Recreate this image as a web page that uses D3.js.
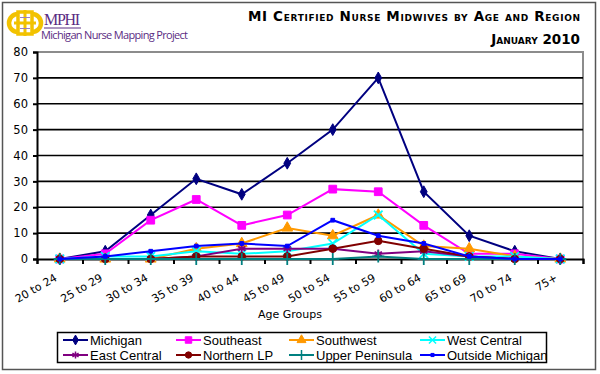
<!DOCTYPE html>
<html>
<head>
<meta charset="utf-8">
<script src="https://cdn.jsdelivr.net/npm/d3@7"></script>
<style>
  body { margin: 0; background: #fff; }
  svg { display: block; }
</style>
</head>
<body>
<div id="chart"></div>
<script>
// Age groups (x categories)
const ageGroups = ["20 to 24", "25 to 29", "30 to 34", "35 to 39", "40 to 44", "45 to 49",
                   "50 to 54", "55 to 59", "60 to 64", "65 to 69", "70 to 74", "75+"];

// Counts per region
const michigan        = [0, 3, 17, 31, 25, 37, 50, 70, 26, 9, 3, 0];
const southeast       = [0, 2, 15, 23, 13, 17, 27, 26, 13, 2, 2, 0];
const southwest       = [0, 0, 0, 4, 6, 12, 9, 17, 5, 4, 1, 0];
const westCentral     = [0, 1, 1, 3, 2, 3, 6, 17, 2, 1, 1, 0];
const eastCentral     = [0, 0, 0, 1, 4, 4, 4, 2, 3, 1, 0, 0];
const northernLP      = [0, 0, 0, 1, 1, 1, 4, 7, 4, 1, 0, 0];
const upperPeninsula  = [0, 0, 0, 0, 0, 0, 0, 1, 0, 0, 0, 0];
const outsideMichigan = [0, 1, 3, 5, 6, 5, 15, 9, 6, 1, 0, 0];

const yTicks = [0, 10, 20, 30, 40, 50, 60, 70, 80];

const series = [
  { name: "Michigan",         values: michigan,        color: "#000080", symbol: d3.symbolDiamond,  size: 40, fill: true },
  { name: "Southeast",        values: southeast,       color: "#ff00ff", symbol: d3.symbolSquare,   size: 60, fill: true },
  { name: "Southwest",        values: southwest,       color: "#ff9900", symbol: d3.symbolTriangle, size: 50, fill: true },
  { name: "West Central",     values: westCentral,     color: "#00ffff", symbol: d3.symbolTimes,    size: 50, fill: false },
  { name: "East Central",     values: eastCentral,     color: "#800080", symbol: d3.symbolAsterisk, size: 50, fill: false },
  { name: "Northern LP",      values: northernLP,      color: "#800000", symbol: d3.symbolCircle,   size: 45, fill: true },
  { name: "Upper Peninsula",  values: upperPeninsula,  color: "#008080", symbol: d3.symbolPlus,     size: 50, fill: false },
  { name: "Outside Michigan", values: outsideMichigan, color: "#0000ff", symbol: d3.symbolSquare,   size: 14, fill: true }
];

const width = 600, height = 374;
const plot = { left: 37, right: 583, top: 52, bottom: 259 };

const svg = d3.select("#chart").append("svg")
  .attr("width", width)
  .attr("height", height);

// outer frame
svg.append("rect")
  .attr("x", 2.5).attr("y", 2.5)
  .attr("width", 593).attr("height", 367)
  .attr("fill", "#fff")
  .attr("stroke", "#555")
  .attr("stroke-width", 1.5);

// logo (yellow knot)
const gold = "#f2c200";
const logo = svg.append("g").attr("transform", "translate(8,9)");
logo.append("circle").attr("cx", 10).attr("cy", 14).attr("r", 9)
  .attr("fill", "none").attr("stroke", gold).attr("stroke-width", 4.5);
logo.append("circle").attr("cx", 24).attr("cy", 14).attr("r", 9)
  .attr("fill", "none").attr("stroke", gold).attr("stroke-width", 4.5);
logo.append("rect").attr("x", 10).attr("y", 3).attr("width", 14).attr("height", 22)
  .attr("fill", "#fff").attr("stroke", gold).attr("stroke-width", 3.5);
logo.append("path").attr("d", "M17,1V27M6,14H28")
  .attr("stroke", gold).attr("stroke-width", 3);
logo.append("path").attr("d", "M12,8.5H22M12,19.5H22")
  .attr("stroke", "#9b7fc0").attr("stroke-width", 1);

svg.append("text")
  .attr("x", 44).attr("y", 25)
  .attr("font-family", "Liberation Serif, serif")
  .attr("font-size", 16)
  .attr("fill", "#5b2c83")
  .attr("textLength", 36)
  .text("MPHI");
svg.append("line")
  .attr("x1", 44).attr("x2", 81).attr("y1", 28).attr("y2", 28)
  .attr("stroke", "#5b2c83").attr("stroke-width", 1);
svg.append("text")
  .attr("x", 41).attr("y", 39)
  .attr("font-family", "Open Sans, sans-serif")
  .attr("font-size", 11)
  .attr("fill", "#5b2c83")
  .attr("textLength", 147)
  .text("Michigan Nurse Mapping Project");

// title
svg.append("text")
  .attr("x", 580).attr("y", 21)
  .attr("text-anchor", "end")
  .attr("font-family", "DejaVu Sans, Verdana, sans-serif")
  .attr("font-weight", "bold")
  .attr("font-size", 13.5)
  .style("font-variant", "small-caps")
  .attr("textLength", 332)
  .text("MI Certified Nurse Midwives by Age and Region");
svg.append("text")
  .attr("x", 580).attr("y", 44)
  .attr("text-anchor", "end")
  .attr("font-family", "DejaVu Sans, Verdana, sans-serif")
  .attr("font-weight", "bold")
  .attr("font-size", 13.5)
  .style("font-variant", "small-caps")
  .text("January 2010");

// scales
const x = d3.scaleBand().domain(ageGroups).range([plot.left, plot.right]);
const xEdges = d3.scaleLinear().domain([0, ageGroups.length]).range([plot.left, plot.right]);
const y = d3.scaleLinear().domain([0, 80]).range([plot.bottom, plot.top]);
const cx = d => x(d) + x.bandwidth() / 2;

// plot border (gray, top and right)
svg.append("path")
  .attr("d", `M${plot.left},${y(80)}H${plot.right}V${plot.bottom}`)
  .attr("fill", "none")
  .attr("stroke", "#8c8c8c")
  .attr("stroke-width", 2);

// gridlines
svg.append("g")
  .selectAll("line")
  .data(yTicks.filter(v => v > 0 && v < 80))
  .join("line")
  .attr("x1", plot.left).attr("x2", plot.right)
  .attr("y1", d => y(d)).attr("y2", d => y(d))
  .attr("stroke", "#000")
  .attr("stroke-width", 1.6);

// y axis
const yAxis = svg.append("g")
  .attr("transform", `translate(${plot.left},0)`)
  .call(d3.axisLeft(y).tickValues(yTicks).tickSize(4).tickPadding(5));
yAxis.select(".domain").attr("stroke-width", 2);
yAxis.selectAll(".tick line").attr("stroke-width", 2);
yAxis.selectAll("text")
  .attr("font-family", "DejaVu Sans, Verdana, sans-serif")
  .attr("font-size", 11.5)
  .attr("fill", "#000");

// x axis with ticks on category edges
const xAxis = svg.append("g")
  .attr("transform", `translate(0,${plot.bottom})`)
  .call(d3.axisBottom(xEdges).ticks(ageGroups.length).tickSize(5).tickFormat(""));
xAxis.select(".domain").attr("stroke-width", 2);
xAxis.selectAll(".tick line").attr("stroke-width", 2);

svg.append("g")
  .selectAll("text")
  .data(ageGroups)
  .join("text")
  .attr("transform", d => `translate(${cx(d) - 2},${plot.bottom + 21}) rotate(-30)`)
  .attr("text-anchor", "end")
  .attr("font-family", "DejaVu Sans, Verdana, sans-serif")
  .attr("font-size", 11)
  .text(d => d);

svg.append("text")
  .attr("x", 290).attr("y", 318)
  .attr("text-anchor", "middle")
  .attr("font-family", "DejaVu Sans, Verdana, sans-serif")
  .attr("font-size", 11)
  .text("Age Groups");

// series lines and markers
const line = d3.line()
  .x((v, i) => cx(ageGroups[i]))
  .y(v => y(v));

const markerPath = (s, k = 1) => d3.symbol().type(s.symbol).size(s.size * k)();

series.forEach(s => {
  const g = svg.append("g");
  g.append("path")
    .datum(s.values)
    .attr("d", line)
    .attr("fill", "none")
    .attr("stroke", s.color)
    .attr("stroke-width", 2);
  g.selectAll("path.m")
    .data(s.values)
    .join("path")
    .attr("class", "m")
    .attr("transform", (v, i) => `translate(${cx(ageGroups[i])},${y(v)})`)
    .attr("d", markerPath(s))
    .attr("fill", s.fill ? s.color : "none")
    .attr("stroke", s.color)
    .attr("stroke-width", s.fill ? 1 : 1.8);
});

// legend
const legend = svg.append("g");
legend.append("rect")
  .attr("x", 57.5).attr("y", 332.5)
  .attr("width", 489).attr("height", 30)
  .attr("fill", "#fff")
  .attr("stroke", "#000")
  .attr("stroke-width", 1.5);

const colX = [63, 176, 289, 420];
const items = legend.selectAll("g.item")
  .data(series)
  .join("g")
  .attr("class", "item")
  .attr("transform", (s, i) => `translate(${colX[i % 4]},${i < 4 ? 340 : 355})`);
items.append("line")
  .attr("x1", 0).attr("x2", 25)
  .attr("stroke", s => s.color)
  .attr("stroke-width", 2);
items.append("path")
  .attr("transform", "translate(12.5,0)")
  .attr("d", s => markerPath(s, 0.7))
  .attr("fill", s => s.fill ? s.color : "none")
  .attr("stroke", s => s.color)
  .attr("stroke-width", s => s.fill ? 1 : 1.5);
items.append("text")
  .attr("x", 27).attr("dy", "0.35em")
  .attr("font-family", "Liberation Sans, Arial, sans-serif")
  .attr("font-size", 13)
  .text(s => s.name);
</script>
</body>
</html>
